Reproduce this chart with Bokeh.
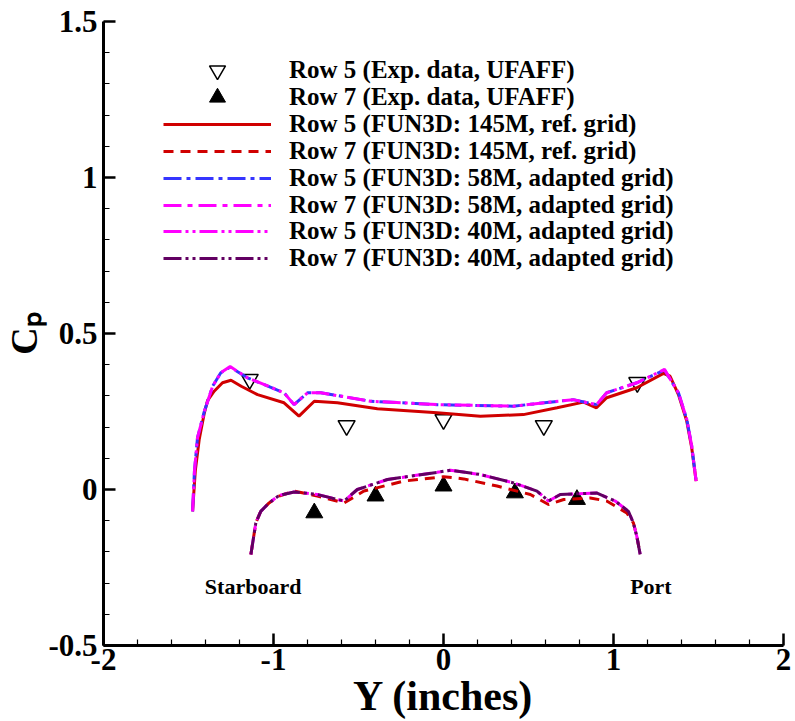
from bokeh.plotting import figure
from bokeh.models import Range1d, FixedTicker, CustomJSTickFormatter, Legend, LegendItem
from bokeh.core.properties import value
from bokeh.embed import file_html
from bokeh.resources import INLINE

# ---------------- data ----------------
exp5_x = [-1.14, -0.57, 0.0, 0.59, 1.14]
exp5_y = [0.353, 0.205, 0.224, 0.205, 0.343]

exp7_x = [-0.76, -0.40, 0.0, 0.42, 0.785]
exp7_y = [-0.075, -0.021, 0.011, -0.011, -0.032]

r5_145_x = [-1.476, -1.46, -1.437, -1.407, -1.388, -1.349, -1.30, -1.25, -1.19, -1.094,
            -0.938, -0.85, -0.76, -0.624, -0.389, -0.037, 0.217, 0.47, 0.668, 0.824,
            0.90, 0.96, 1.137, 1.294, 1.333, 1.382, 1.431, 1.46, 1.486]
r5_145_y = [-0.07, 0.06, 0.16, 0.245, 0.285, 0.315, 0.342, 0.350, 0.331, 0.304,
            0.278, 0.235, 0.283, 0.278, 0.259, 0.246, 0.235, 0.24, 0.262, 0.28,
            0.262, 0.294, 0.326, 0.372, 0.363, 0.304, 0.219, 0.134, 0.027]

r7_145_x = [-1.133, -1.104, -1.075, -1.026, -0.967, -0.879, -0.742, -0.585, -0.468, -0.233,
            0.0, 0.119, 0.315, 0.511, 0.618, 0.707, 0.863, 0.96, 1.078, 1.117, 1.137, 1.157]
r7_145_y = [-0.208, -0.107, -0.07, -0.043, -0.021, -0.005, -0.021, -0.043, -0.005, 0.027,
            0.041, 0.034, 0.011, -0.016, -0.048, -0.032, -0.027, -0.037, -0.075, -0.107, -0.15, -0.208]

r5_58_x = [-1.476, -1.465, -1.447, -1.407, -1.358, -1.31, -1.255, -1.153, -0.938, -0.879,
           -0.80, -0.722, -0.43, -0.037, 0.41, 0.763, 0.90, 0.96, 1.137, 1.30,
           1.382, 1.431, 1.46, 1.486]
r5_58_y = [-0.07, 0.059, 0.166, 0.25, 0.331, 0.374, 0.392, 0.358, 0.31, 0.272,
           0.31, 0.31, 0.283, 0.272, 0.267, 0.288, 0.272, 0.31, 0.342, 0.383,
           0.31, 0.225, 0.14, 0.027]

r7_58_x = [-1.133, -1.104, -1.075, -1.026, -0.967, -0.879, -0.742, -0.585, -0.507, -0.33,
           -0.037, 0.041, 0.217, 0.413, 0.55, 0.618, 0.687, 0.9, 1.01, 1.088,
           1.117, 1.137, 1.157]
r7_58_y = [-0.208, -0.107, -0.07, -0.043, -0.019, -0.008, -0.016, -0.037, 0.0, 0.032,
           0.055, 0.062, 0.048, 0.021, -0.005, -0.037, -0.016, -0.011, -0.037, -0.07,
           -0.107, -0.15, -0.208]

r5_40_x = r5_58_x
r5_40_y = [-0.07, 0.059, 0.166, 0.25, 0.331, 0.374, 0.394, 0.358, 0.31, 0.272,
           0.31, 0.31, 0.283, 0.272, 0.267, 0.288, 0.272, 0.31, 0.342, 0.385,
           0.31, 0.225, 0.14, 0.027]
r7_40_x = r7_58_x
r7_40_y = r7_58_y

legend_labels = ["Row 5 (Exp. data, UFAFF)", "Row 7 (Exp. data, UFAFF)",
                 "Row 5 (FUN3D: 145M, ref. grid)", "Row 7 (FUN3D: 145M, ref. grid)",
                 "Row 5 (FUN3D: 58M, adapted grid)", "Row 7 (FUN3D: 58M, adapted grid)",
                 "Row 5 (FUN3D: 40M, adapted grid)", "Row 7 (FUN3D: 40M, adapted grid)"]

side_text = ["Starboard", "Port"]
side_x = [-1.12, 1.22]
side_y = [-0.31, -0.31]

x_ticks = [-2, -1, 0, 1, 2]
y_ticks = [-0.5, 0, 0.5, 1, 1.5]
x_minor = [round(-2 + 0.2 * i, 1) for i in range(21)]
y_minor = [round(-0.5 + 0.1 * i, 1) for i in range(21)]

# ---------------- figure ----------------
FONT = "Liberation Serif"
p = figure(width=795, height=721, output_backend="svg", toolbar_location=None,
           x_range=Range1d(-2, 2), y_range=Range1d(-0.5, 1.5),
           min_border_left=102, min_border_right=12, min_border_top=21, min_border_bottom=76)
p.outline_line_color = None
p.xgrid.visible = False
p.ygrid.visible = False
p.background_fill_color = "white"

RED = "#d00000"
BLUE = "#3535ff"
MAG = "#ff00ff"
PURP = "#620062"
LW = 3

renderers = []
renderers.append(p.scatter(exp5_x, exp5_y, marker="inverted_triangle", size=17, fill_color="white",
                           line_color="black", line_width=1.5))
renderers.append(p.scatter(exp7_x, exp7_y, marker="triangle", size=17, fill_color="black",
                           line_color="black"))
renderers.append(p.line(r5_145_x, r5_145_y, line_color=RED, line_width=LW))
renderers.append(p.line(r7_145_x, r7_145_y, line_color=RED, line_width=LW, line_dash="10 7"))
renderers.append(p.line(r5_58_x, r5_58_y, line_color=BLUE, line_width=LW, line_dash="18 5 4 5"))
renderers.append(p.line(r7_58_x, r7_58_y, line_color=MAG, line_width=LW, line_dash="18 6 5 6"))
renderers.append(p.line(r5_40_x, r5_40_y, line_color=MAG, line_width=LW, line_dash="18 4 3 4 3 4"))
renderers.append(p.line(r7_40_x, r7_40_y, line_color=PURP, line_width=LW, line_dash="18 4 3 4 3 4"))

p.text(x=side_x, y=side_y, text=side_text, text_font=value(FONT), text_font_style="bold",
       text_font_size="22px", text_align="center", text_baseline="middle", text_color="black")

# ---------------- legend (one row per Legend for exact row pitch) ----------------
ROW0 = 575.0   # centre of first row, px above frame bottom
PITCH = 26.9
for i, (lab, r) in enumerate(zip(legend_labels, renderers)):
    gh = 40 if i < 2 else 30
    lg = Legend(items=[LegendItem(label=lab, renderers=[r])],
                location=(60, ROW0 - i * PITCH - gh / 2))
    lg.border_line_color = None
    lg.background_fill_alpha = 0
    lg.padding = 0
    lg.margin = 0
    lg.spacing = 0
    lg.glyph_width = 108
    lg.glyph_height = gh
    lg.label_height = gh
    lg.label_standoff = 18
    lg.label_text_font = FONT
    lg.label_text_font_style = "bold"
    lg.label_text_font_size = "25px"
    lg.label_text_color = "black"
    p.add_layout(lg)

# ---------------- axes ----------------
fmt = CustomJSTickFormatter(code="return tick.toString();")
for ax, ticks, minor in ((p.xaxis[0], x_ticks, x_minor), (p.yaxis[0], y_ticks, y_minor)):
    ax.ticker = FixedTicker(ticks=ticks, minor_ticks=minor)
    ax.formatter = fmt
    ax.axis_line_width = 3
    ax.axis_line_color = "black"
    ax.major_tick_in = 12
    ax.major_tick_out = 0
    ax.minor_tick_in = 6
    ax.minor_tick_out = 0
    ax.major_tick_line_width = 2.5
    ax.minor_tick_line_width = 1.2
    ax.major_label_text_font = FONT
    ax.major_label_text_font_style = "bold"
    ax.major_label_text_font_size = "31px"
    ax.major_label_text_color = "black"
    ax.axis_label_text_font = FONT
    ax.axis_label_text_font_style = "bold"
    ax.axis_label_text_color = "black"

p.xaxis.axis_label = "Y (inches)"
p.xaxis.axis_label_text_font_size = "42px"
p.xaxis.axis_label_standoff = 0
p.xaxis.major_label_standoff = 3
p.yaxis.axis_label = "Cₚ"
p.yaxis.axis_label_text_font_size = "38px"
p.yaxis.axis_label_standoff = 0
p.yaxis.major_label_standoff = 6

open("out.html", "w").write(file_html(p, INLINE))
